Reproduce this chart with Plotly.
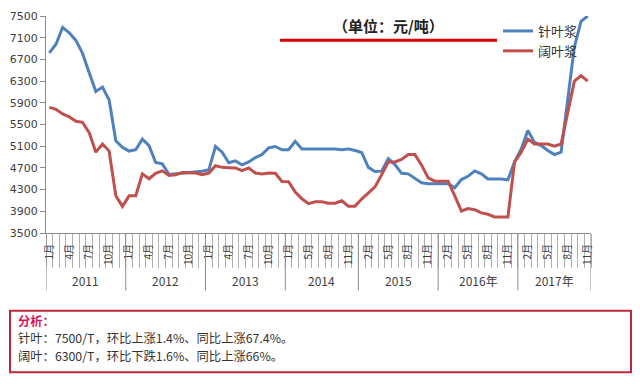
import plotly.graph_objects as go

# ---- data ----
years = ["2011", "2012", "2013", "2014", "2015", "2016年", "2017年"]
months_2011 = [1, 2, 3, 4, 5, 6, 7, 8, 9, 10, 11, 12]
months_2012 = [1, 2, 3, 4, 5, 6, 7, 8, 9, 10, 11, 12]
months_2013 = [1, 2, 3, 4, 5, 6, 7, 8, 9, 10, 11, 12]
months_2014 = [1, 3, 4, 5, 6, 7, 8, 9, 10, 11, 12]
months_2015 = [1, 2, 3, 4, 5, 6, 7, 8, 9, 10, 11, 12]
months_2016 = [1, 2, 3, 4, 5, 6, 7, 8, 9, 10, 11, 12]
months_2017 = [1, 2, 3, 4, 5, 6, 7, 8, 9, 10, 11]
year_months = [months_2011, months_2012, months_2013, months_2014,
               months_2015, months_2016, months_2017]

softwood = [6820, 6980, 7290, 7190, 7050, 6810, 6455, 6110, 6190, 5950, 5200, 5080,
            5010, 5035, 5230, 5110, 4800, 4775, 4580, 4590, 4610, 4620, 4620, 4640,
            4665, 5095, 4990, 4795, 4830, 4755, 4810, 4890, 4945, 5070, 5095, 5035,
            5035, 5190, 5050, 5050, 5050, 5050, 5050, 5050, 5035, 5050, 5020,
            4985, 4710, 4635, 4640, 4870, 4760, 4600, 4590, 4515, 4425, 4410, 4410,
            4410, 4410, 4335, 4485, 4545, 4645, 4590, 4495, 4495, 4495, 4480, 4810,
            5050, 5390, 5170, 5110, 5020, 4945, 4990, 5960, 6930, 7400, 7500]
hardwood = [5815, 5780, 5695, 5640, 5560, 5540, 5350, 4990, 5140, 5010, 4185, 3990,
            4185, 4185, 4590, 4500, 4600, 4645, 4560, 4575, 4615, 4615, 4605, 4575,
            4605, 4740, 4710, 4705, 4700, 4650, 4700, 4605, 4590, 4605, 4600, 4450,
            4445, 4255, 4130, 4040, 4075, 4075, 4050, 4050, 4095, 3995, 3995,
            4125, 4245, 4350, 4575, 4810, 4810, 4855, 4945, 4945, 4755, 4515, 4455,
            4455, 4455, 4185, 3905, 3950, 3930, 3870, 3845, 3795, 3795, 3795, 4810,
            4990, 5230, 5140, 5140, 5140, 5100, 5140, 5720, 6300, 6400, 6300]

y_ticks = [3500, 3900, 4300, 4700, 5100, 5500, 5900, 6300, 6700, 7100, 7500]

title_text = "（单位：元/吨）"
note_title = "分析："
note_lines = ["针叶：7500/T，环比上涨1.4%、同比上涨67.4%。",
              "阔叶：6300/T，环比下跌1.6%、同比上涨66%。"]

# ---- derived category info ----
month_list = [m for ms in year_months for m in ms]
n = len(month_list)
xs = list(range(n))
label_idx = list(range(0, n, 3))
label_txt = [f"{month_list[i]}月" for i in label_idx]

bounds = [-0.5]
for ms in year_months:
    bounds.append(bounds[-1] + len(ms))

BLUE = "#4F81BD"
RED = "#C0504D"
GRAY = "#8C8C8C"
CJK = "Noto Sans CJK SC"

fig = go.Figure()
fig.add_trace(go.Scatter(x=xs, y=softwood, mode="lines", name="针叶浆",
                         line=dict(color=BLUE, width=3)))
fig.add_trace(go.Scatter(x=xs, y=hardwood, mode="lines", name="阔叶浆",
                         line=dict(color=RED, width=3)))

# plot area: x 46..591 px, y 10..233 px
L, R, T, B = 46, 591, 10, 233
W, H = R - L, B - T

def px(xp):
    return (xp - L) / W

def py(yp):
    return (B - yp) / H

shapes = []
for b in bounds:
    shapes.append(dict(type="line", xref="x", yref="paper", x0=b, x1=b,
                       y0=0, y1=py(292), line=dict(color=GRAY, width=1)))
# red underline of title
shapes.append(dict(type="line", xref="paper", yref="paper", x0=px(280), x1=px(497),
                   y0=py(35), y1=py(35), line=dict(color="#DD0000", width=3)))
# analysis box
shapes.append(dict(type="rect", xref="paper", yref="paper", x0=px(10), x1=px(631),
                   y0=py(313), y1=py(376), line=dict(color="#C0283C", width=2),
                   fillcolor="rgba(0,0,0,0)"))

annotations = []
for k, yr in enumerate(years):
    annotations.append(dict(x=(bounds[k] + bounds[k + 1]) / 2, y=py(282), xref="x", yref="paper",
                            text=yr, showarrow=False, xanchor="center", yanchor="middle",
                            font=dict(family=CJK, size=12, color="#404040")))
annotations.append(dict(x=px(388), y=py(20), xref="paper", yref="paper", text=f"<b>{title_text}</b>",
                        showarrow=False, xanchor="center", yanchor="middle",
                        font=dict(family=CJK, size=15, color="#222222")))
annotations.append(dict(x=px(16), y=py(323), xref="paper", yref="paper", text=f"<b>{note_title}</b>",
                        showarrow=False, xanchor="left", yanchor="middle",
                        font=dict(family=CJK, size=12.3, color="#D4145A")))
for j, t in enumerate(note_lines):
    annotations.append(dict(x=px(16), y=py(341 + 18 * j), xref="paper", yref="paper", text=t,
                            showarrow=False, xanchor="left", yanchor="middle",
                            font=dict(family=CJK, size=12.3, color="#333333")))

fig.update_layout(
    width=640, height=384,
    margin=dict(l=L, r=640 - R, t=T, b=384 - B),
    paper_bgcolor="white", plot_bgcolor="white",
    showlegend=True,
    legend=dict(x=px(498), y=py(10), xanchor="left", yanchor="top",
                bgcolor="rgba(0,0,0,0)", itemwidth=30,
                font=dict(family=CJK, size=13, color="#333333")),
    xaxis=dict(range=[-0.5, n - 0.5], showgrid=False, zeroline=False,
               showline=True, linecolor=GRAY, linewidth=1,
               tickmode="array", tickvals=label_idx, ticktext=label_txt,
               ticks="outside", ticklen=0, tickangle=-90, ticklabelstandoff=6,
               tickfont=dict(family=CJK, size=10, color="#404040"),
               minor=dict(tickmode="array", tickvals=[i - 0.5 for i in range(n + 1)],
                          ticks="outside", ticklen=34, tickcolor="#B0B0B0", tickwidth=1)),
    yaxis=dict(range=[3500, 7500], showgrid=False, zeroline=False,
               showline=True, linecolor=GRAY, linewidth=1,
               tickmode="array", tickvals=y_ticks, ticktext=[str(v) for v in y_ticks],
               ticks="outside", ticklen=5, tickcolor=GRAY,
               tickfont=dict(family="DejaVu Sans", size=11, color="#404040")),
    shapes=shapes, annotations=annotations,
)

fig.write_html("out.html", config={"displayModeBar": False},
               post_script="document.body.style.margin='0';document.body.style.overflow='hidden';")
